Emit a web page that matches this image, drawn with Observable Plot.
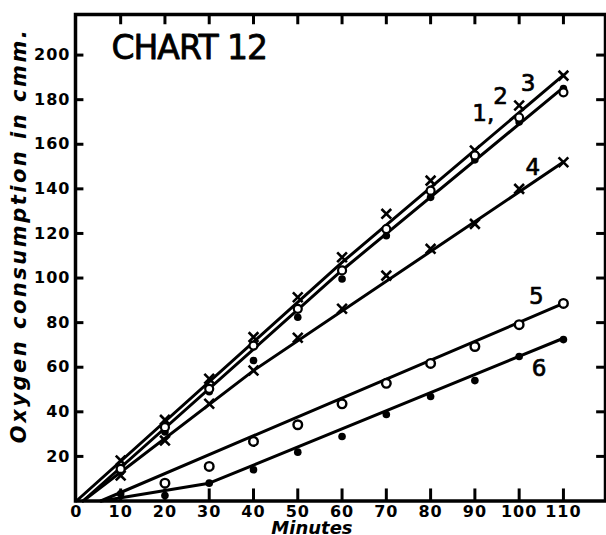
<!DOCTYPE html>
<html>
<head>
<meta charset="utf-8">
<script src="https://cdn.jsdelivr.net/npm/d3@7"></script>
<script src="https://cdn.jsdelivr.net/npm/@observablehq/plot@0.6"></script>
<style>
  html, body { margin: 0; padding: 0; background: #fff; }
  #chart svg { display: block; }
</style>
</head>
<body>
<div id="chart"></div>
<script>
// ---------- data ----------
const minutes = [10, 20, 30, 40, 50, 60, 70, 80, 90, 100, 110];

// curves 1, 2, 3 (upper group)
const curve3Crosses = [18.2, 36.4, 54.8, 73.5, 91.4, 109.3, 128.8, 143.7, 157.2, 177.4, 190.8];
const curve2Circles = [14.4, 33.1, 50.3, 69.7, 86.2, 103.4, 122, 139.2, 155, 172, 183.3];
const curve1Dots    = [13, 31, 49, 63, 82.4, 99.6, 119, 136.2, 153, 170, 185];
// curve 4
const curve4Crosses = [11.4, 27.1, 43.6, 58.5, 73.2, 86.2, 101.1, 113.1, 124.3, 140, 151.9];
// curve 5
const curve5Circles = [null, 8, 15.5, 26.7, 34.2, 43.6, 52.8, 61.7, 69.3, 79.1, 88.6];
// curve 6
const curve6Dots    = [3.2, 2.5, 8, 14, 21.9, 28.9, 38.8, 46.9, 54, 64.8, 72.4];

// hand-drawn fitted lines (vertices)
const lineUpperMin = [0, 60, 110];    const lineUpperVal = [0, 107, 191];
const lineLowerMin = [1.5, 60, 110];  const lineLowerVal = [0, 103.5, 185.5];
const line4Min     = [1.5, 40, 110];  const line4Val     = [0, 58.5, 152];
const line5Min     = [5.5, 110];      const line5Val     = [0, 88.6];
const line6Min     = [5.6, 30, 110];  const line6Val     = [0, 8, 73];

// axis ticks
const xTickLabels = [0, 10, 20, 30, 40, 50, 60, 70, 80, 90, 100, 110];
const xTickMarks  = [10, 20, 30, 40, 50, 60, 70, 80, 90, 100, 110];
const yTickLabels = [20, 40, 60, 80, 100, 120, 140, 160, 180, 200];

// text
const chartTitle = "CHART 12";
const xTitle = "Minutes";
const yTitle = "Oxygen consumption in cmm.";
const curveLabels = ["1,", "2", "3", "4", "5", "6"];
const curveLabelMin = [91.9, 95.9, 102.1, 103.2, 104, 104.6];
const curveLabelVal = [173.8, 181.2, 187, 149.3, 91.5, 59.2];

// ---------- build tables ----------
const pts = (vals) => minutes.map((m, i) => ({m, v: vals[i]})).filter(d => d.v != null);
const path = (id, ms, vs) => ms.map((m, i) => ({id, m, v: vs[i]}));
const lines = [
  ...path("upper", lineUpperMin, lineUpperVal),
  ...path("lower", lineLowerMin, lineLowerVal),
  ...path("c4", line4Min, line4Val),
  ...path("c5", line5Min, line5Val),
  ...path("c6", line6Min, line6Val)
];
const labels = curveLabels.map((t, i) => ({t, m: curveLabelMin[i], v: curveLabelVal[i]}));

const X_MAX = 119.5, Y_MAX = 218.2;
const FONT = "DejaVu Sans";

const chart = Plot.plot({
  width: 606,
  height: 535,
  marginLeft: 75,
  marginRight: 1,
  marginTop: 14,
  marginBottom: 34.5,
  x: {domain: [-0.2, X_MAX], axis: null},
  y: {domain: [0, Y_MAX], axis: null},
  style: {background: "white", fontFamily: FONT, color: "black"},
  marks: [
    // inward tick marks on all four sides
    Plot.ruleX(xTickMarks, {x: d => d, y1: () => 0, y2: () => 5.4, stroke: "black", strokeWidth: 3}),
    Plot.ruleX(xTickMarks, {x: d => d, y1: () => Y_MAX, y2: () => Y_MAX - 4.6, stroke: "black", strokeWidth: 3}),
    Plot.ruleY(yTickLabels, {y: d => d, x1: () => -0.2, x2: () => 1.7, stroke: "black", strokeWidth: 3}),
    Plot.ruleY(yTickLabels, {y: d => d, x1: () => X_MAX, x2: () => X_MAX - 2.0, stroke: "black", strokeWidth: 3}),
    Plot.frame({stroke: "black", strokeWidth: 3.5}),

    // tick labels
    Plot.text(xTickLabels, {x: d => d, frameAnchor: "bottom", dy: 10.5, lineAnchor: "middle",
      text: d => String(d), fontSize: 16, fontWeight: "bold", fill: "black"}),
    Plot.text(yTickLabels, {y: d => d, frameAnchor: "left", dx: -5, textAnchor: "end", lineAnchor: "middle",
      text: d => String(d), fontSize: 16, fontWeight: "bold", fill: "black"}),

    // axis titles
    Plot.text([xTitle], {x: () => 53.2, frameAnchor: "bottom", dy: 27, lineAnchor: "middle", textAnchor: "middle",
      text: d => d, fontSize: 18, fontWeight: "bold", fontStyle: "italic", fill: "black"}),
    Plot.text([yTitle], {y: () => 119.1, frameAnchor: "left", dx: -56, rotate: -90, lineAnchor: "middle", textAnchor: "middle",
      text: d => d, fontSize: 21, fontWeight: "bold", fontStyle: "italic", fill: "black"}),

    // fitted lines
    Plot.line(lines, {x: "m", y: "v", z: "id", stroke: "black", strokeWidth: 3, strokeLinecap: "round"}),

    // observations
    Plot.dot(pts(curve3Crosses), {x: "m", y: "v", symbol: "times", r: 4.5, stroke: "black", strokeWidth: 2.6}),
    Plot.dot(pts(curve4Crosses), {x: "m", y: "v", symbol: "times", r: 4.5, stroke: "black", strokeWidth: 2.6}),
    Plot.dot(pts(curve1Dots), {x: "m", y: "v", r: 3.8, fill: "black", stroke: "none"}),
    Plot.dot(pts(curve6Dots), {x: "m", y: "v", r: 3.8, fill: "black", stroke: "none"}),
    Plot.dot(pts(curve2Circles), {x: "m", y: "v", r: 4, fill: "white", stroke: "black", strokeWidth: 2.2}),
    Plot.dot(pts(curve5Circles), {x: "m", y: "v", r: 4.3, fill: "white", stroke: "black", strokeWidth: 2.4}),

    // curve labels and title
    Plot.text(labels, {x: "m", y: "v", text: "t", fontSize: 23, lineAnchor: "middle", fill: "black",
      stroke: "black", strokeWidth: 0.7}),
    Plot.text([chartTitle], {x: () => 25.5, y: () => 203.1, text: d => d, fontSize: 33, lineAnchor: "middle",
      fill: "black", stroke: "black", strokeWidth: 0.8})
  ]
});

document.getElementById("chart").appendChild(chart);

// hand-lettered look: spread the y title a little, tighten the chart title
d3.select(chart).selectAll("text")
  .filter(function() { return this.textContent === yTitle; })
  .style("letter-spacing", "2.5px");
d3.select(chart).selectAll("text")
  .filter(function() { return this.textContent === chartTitle; })
  .style("letter-spacing", "-1px");
d3.select(chart).selectAll("text")
  .filter(function() { return /^\d+$/.test(this.textContent); })
  .style("letter-spacing", "1px");
</script>
</body>
</html>
